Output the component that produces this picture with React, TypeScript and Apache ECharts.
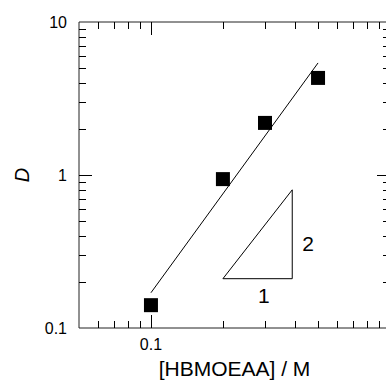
import React, { useEffect, useRef } from "react";
import * as echarts from "echarts";

// Data
const concentration = [0.1, 0.2, 0.3, 0.5];
const dValues = [0.141, 0.94, 2.19, 4.31];
const fitX = [0.1, 0.5];
const fitY = [0.17, 5.4];
const triangleX = [0.2, 0.39, 0.39, 0.2];
const triangleY = [0.21, 0.21, 0.8, 0.21];
const slopeLabels = ["1", "2"];
const slopeLabelX = [0.297, 0.454];
const slopeLabelY = [0.162, 0.355];
const xMinorTicks = [0.06, 0.07, 0.08, 0.09, 0.2, 0.3, 0.4, 0.5, 0.6, 0.7, 0.8, 0.9];
const xMajorTicks = [0.1, 1];
const yMinorTicks = [0.2, 0.3, 0.4, 0.5, 0.6, 0.7, 0.8, 0.9, 2, 3, 4, 5, 6, 7, 8, 9];
const yMajorTicks = [1];
const xLabels = ["0.1", "1"];
const yLabels = ["0.1", "1", "10"];

const FONT = "Liberation Sans, Arial, sans-serif";

function isDecade(v: number) {
  const l = Math.log10(v);
  return Math.abs(l - Math.round(l)) < 1e-6;
}
function fmt(v: number, labels: string[]) {
  if (!isDecade(v)) return "";
  const s = String(Number(v.toPrecision(6)));
  return labels.indexOf(s) >= 0 ? s : "";
}

function xTicks(len: number) {
  return (params: any, api: any) => {
    const cs = params.coordSys;
    const x = Math.round(api.coord([api.value(0), api.value(1)])[0]) + 0.5;
    const b = cs.y + cs.height;
    const t = cs.y;
    const style = { stroke: "#000", lineWidth: 1 };
    return {
      type: "group",
      children: [
        { type: "line", shape: { x1: x, y1: b, x2: x, y2: b - len }, style },
        { type: "line", shape: { x1: x, y1: t, x2: x, y2: t + len }, style },
      ],
    };
  };
}
function yTicks(len: number) {
  return (params: any, api: any) => {
    const cs = params.coordSys;
    const y = Math.round(api.coord([api.value(0), api.value(1)])[1]) + 0.5;
    const l = cs.x;
    const r = cs.x + cs.width;
    const style = { stroke: "#000", lineWidth: 1 };
    return {
      type: "group",
      children: [
        { type: "line", shape: { x1: l, y1: y, x2: l + len, y2: y }, style },
        { type: "line", shape: { x1: r, y1: y, x2: r - len, y2: y }, style },
      ],
    };
  };
}

export default function App() {
  const ref = useRef<HTMLDivElement>(null);
  useEffect(() => {
    if (!ref.current) return;
    const chart = echarts.init(ref.current, null, { renderer: "svg" });
    chart.setOption({
      animation: false,
      backgroundColor: "#fff",
      textStyle: { fontFamily: FONT },
      grid: {
        left: 79,
        top: 22,
        right: -4,
        bottom: 52,
        show: true,
        borderColor: "#222",
        borderWidth: 1,
        outerBoundsMode: "none",
        containLabel: false,
      },
      xAxis: {
        type: "log",
        logBase: 10,
        min: 0.05,
        max: 1,
        name: "[HBMOEAA] / M",
        nameLocation: "middle",
        nameGap: 30,
        nameTextStyle: { fontSize: 21, color: "#000", fontFamily: FONT },
        axisLine: { show: false },
        axisTick: { show: false },
        splitLine: { show: false },
        minorTick: { show: false },
        axisLabel: {
          fontSize: 16,
          color: "#000",
          margin: 8,
          fontFamily: FONT,
          showMinLabel: false,
          formatter: (v: number) => fmt(v, xLabels),
        },
      },
      yAxis: {
        type: "log",
        logBase: 10,
        min: 0.1,
        max: 10,
        name: "D",
        nameLocation: "middle",
        nameGap: 47,
        nameTextStyle: { fontSize: 20, fontStyle: "italic", color: "#000", fontFamily: FONT },
        axisLine: { show: false },
        axisTick: { show: false },
        splitLine: { show: false },
        minorTick: { show: false },
        axisLabel: {
          fontSize: 16,
          color: "#000",
          margin: 12,
          fontFamily: FONT,
          formatter: (v: number) => fmt(v, yLabels),
        },
      },
      series: [
        {
          type: "custom",
          renderItem: xTicks(7),
          data: xMinorTicks.map((v) => [v, 1]),
          silent: true,
          z: 5,
        },
        {
          type: "custom",
          renderItem: xTicks(13),
          data: xMajorTicks.map((v) => [v, 1]),
          silent: true,
          z: 5,
        },
        {
          type: "custom",
          renderItem: yTicks(7),
          data: yMinorTicks.map((v) => [0.1, v]),
          silent: true,
          z: 5,
        },
        {
          type: "custom",
          renderItem: yTicks(13),
          data: yMajorTicks.map((v) => [0.1, v]),
          silent: true,
          z: 5,
        },
        {
          type: "line",
          data: fitX.map((x, i) => [x, fitY[i]]),
          symbol: "none",
          lineStyle: { color: "#000", width: 1, opacity: 1 },
          silent: true,
          z: 3,
        },
        {
          type: "line",
          data: triangleX.map((x, i) => [x, triangleY[i]]),
          symbol: "none",
          lineStyle: { color: "#000", width: 1, opacity: 1 },
          silent: true,
          z: 3,
        },
        {
          type: "scatter",
          data: concentration.map((x, i) => [x, dValues[i]]),
          symbol: "rect",
          symbolSize: 14,
          itemStyle: { color: "#000", opacity: 1 },
          z: 4,
        },
        {
          type: "scatter",
          data: slopeLabels.map((t, i) => ({ name: t, value: [slopeLabelX[i], slopeLabelY[i]] })),
          symbolSize: 0,
          itemStyle: { opacity: 1 },
          label: {
            show: true,
            position: "inside",
            formatter: "{b}",
            fontSize: 21,
            color: "#000",
            opacity: 1,
            fontFamily: FONT,
          },
          silent: true,
          z: 4,
        },
      ],
    });
    return () => chart.dispose();
  }, []);
  return (
    <div
      ref={ref}
      style={{ position: "fixed", left: 0, top: 0, width: 386, height: 380, background: "#fff" }}
    />
  );
}
